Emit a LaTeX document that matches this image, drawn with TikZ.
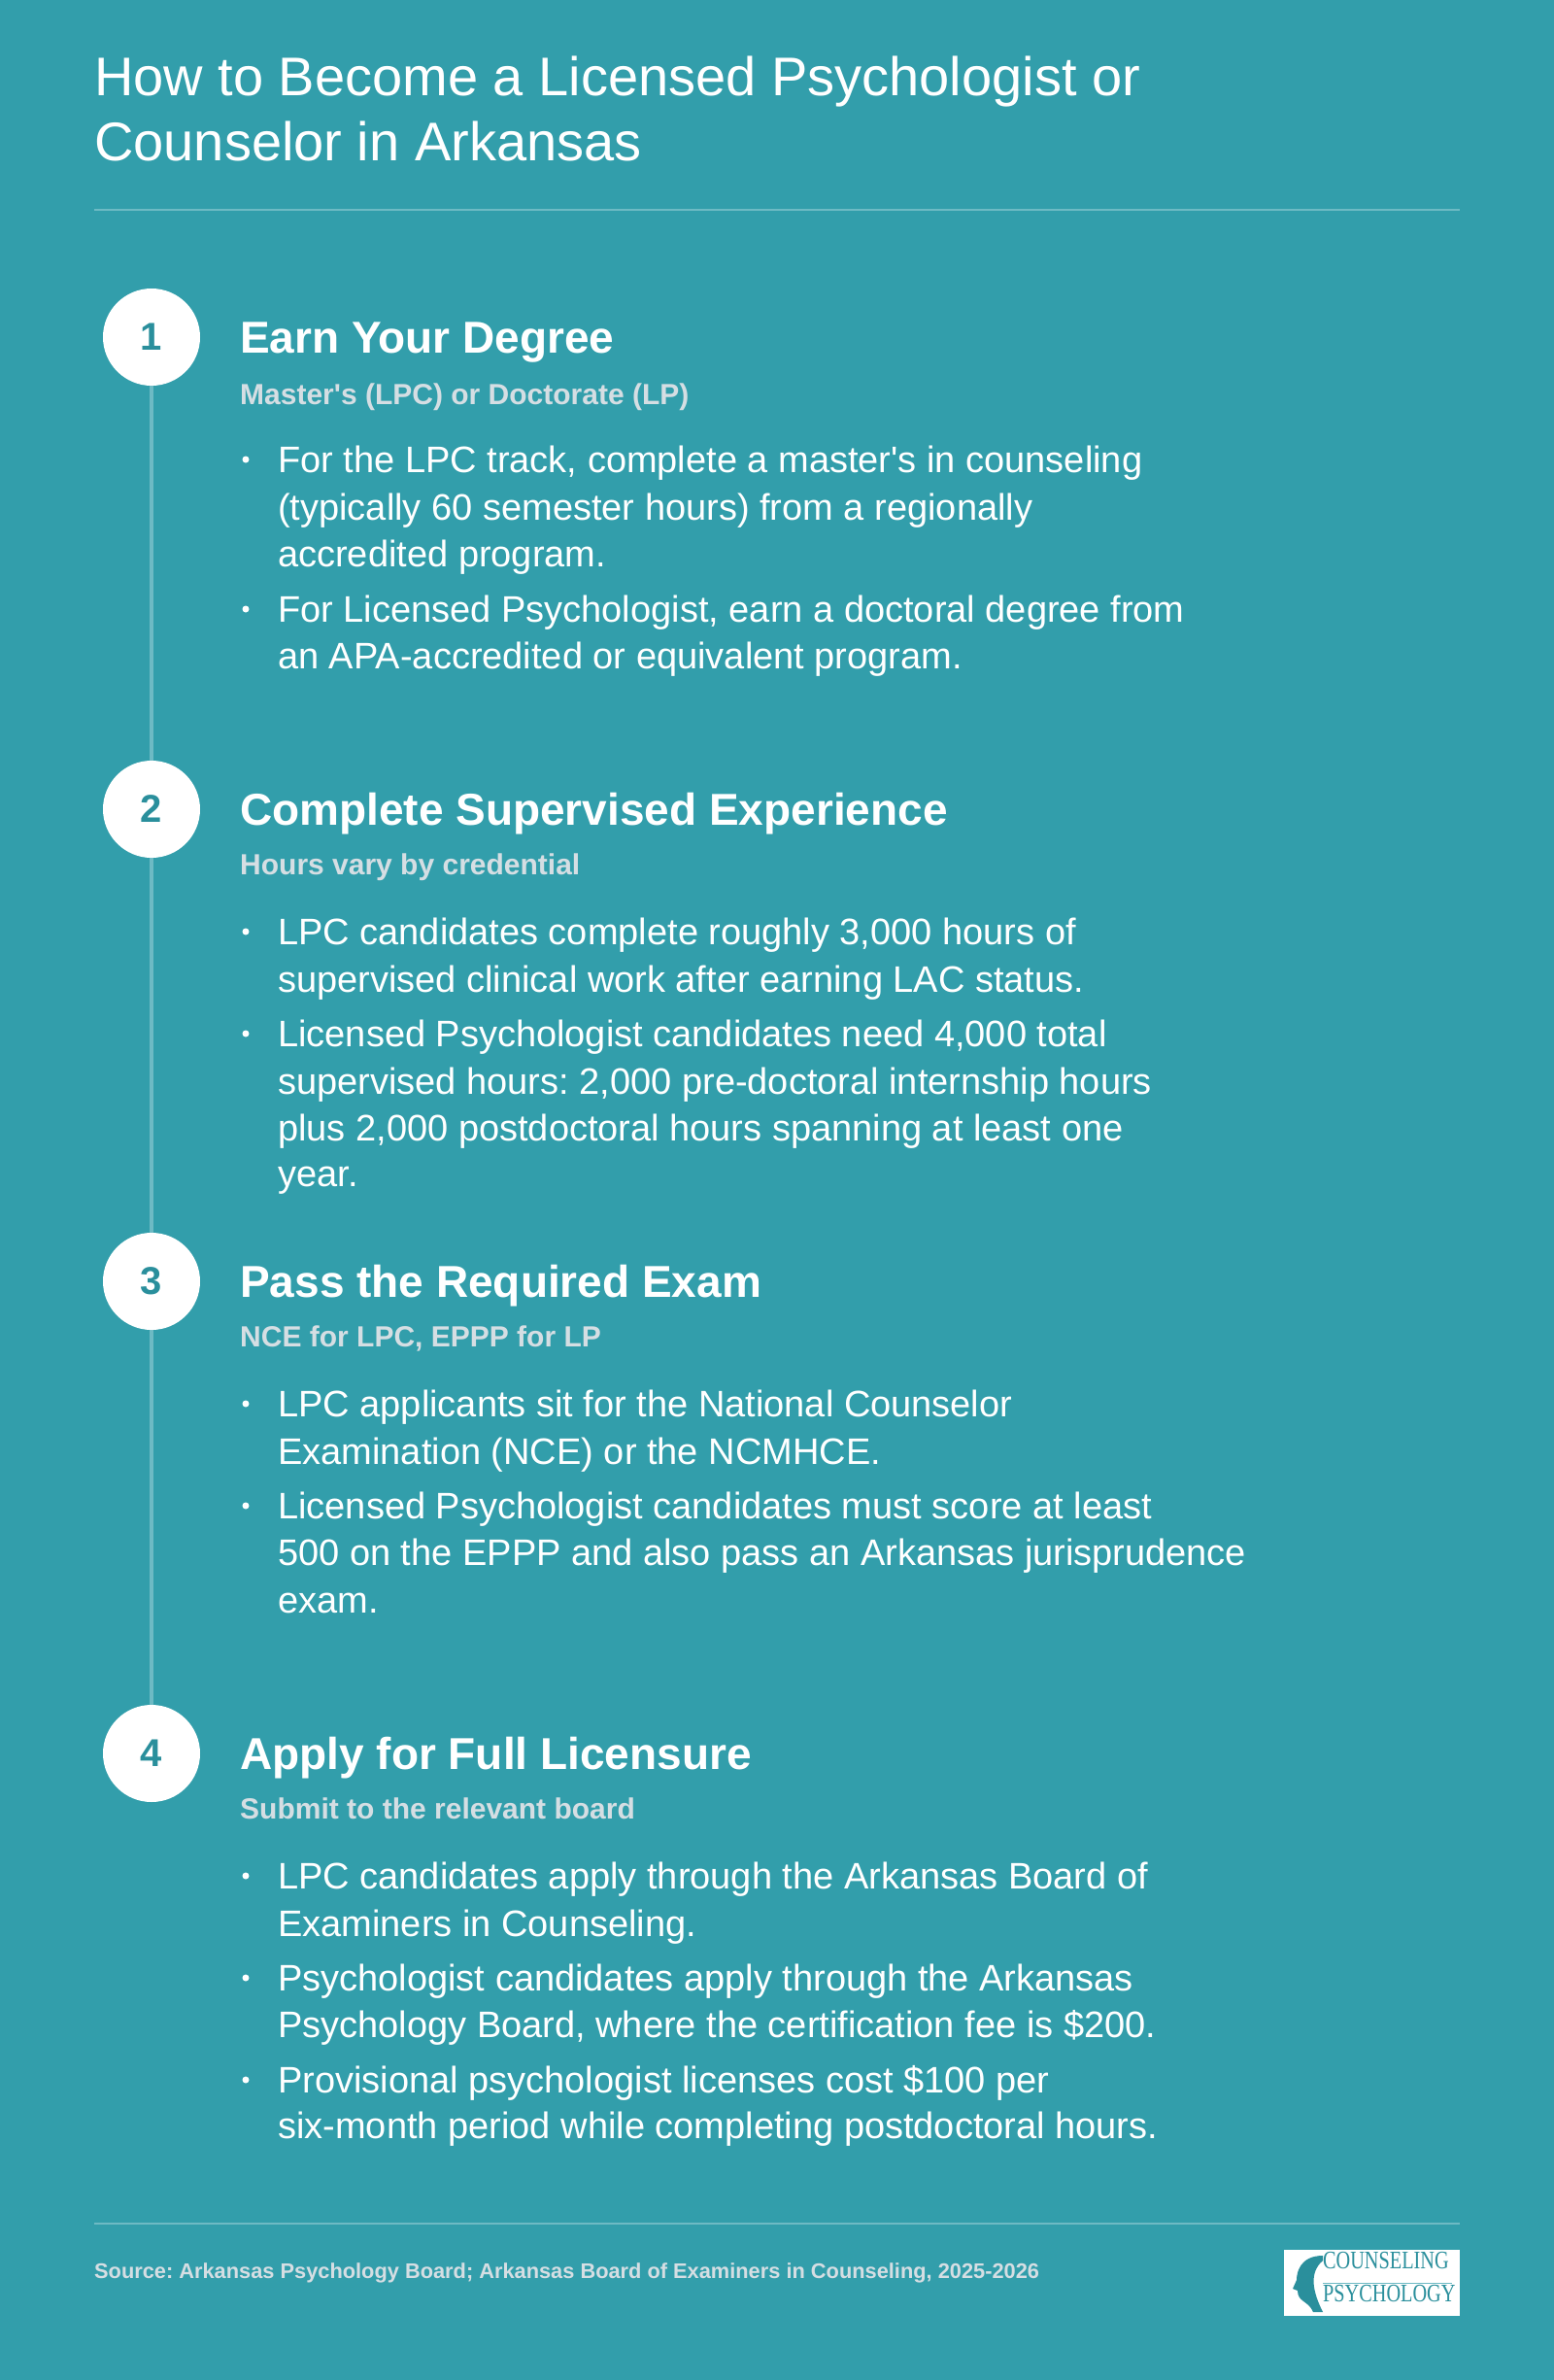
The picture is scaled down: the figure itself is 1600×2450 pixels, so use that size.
\documentclass[tikz,border=0pt]{standalone}
\usepackage{fontspec}
\setmainfont{Liberation Sans}[Ligatures=TeXOff]
\newfontfamily\logofont{Liberation Serif}
\definecolor{bg}{HTML}{329EAB}
\definecolor{sub}{HTML}{D5DEE3}
\definecolor{rl}{HTML}{6DBAC4}
\definecolor{tl}{HTML}{2A8F9C}
\frenchspacing
\begin{document}
\begin{tikzpicture}[x=1pt,y=-1pt,
 title/.style={anchor=base west,inner sep=0,text=white,yshift=-20,font=\fontsize{56}{60}\selectfont},
 head/.style={anchor=base west,inner sep=0,text=white,yshift=-16,font=\bfseries\fontsize{46}{50}\selectfont},
 subt/.style={anchor=base west,inner sep=0,text=sub,yshift=-11,font=\bfseries\fontsize{30}{34}\selectfont},
 bl/.style={anchor=base west,inner sep=0,text=white,yshift=-13,font=\fontsize{38}{40}\selectfont},
 dot/.style={circle,fill=white,inner sep=0,minimum size=7},
 num/.style={circle,fill=white,minimum size=100,inner sep=0,text=tl,font=\bfseries\fontsize{40}{44}\selectfont}]
\fill[bg] (0,0) rectangle (1600,2450);
\useasboundingbox (0,0) rectangle (1600,2450);
\node[title] (t1) at (97,78) {How to Become a Licensed Psychologist or};
\node[title] (t2) at (97,145) {Counselor in Arkansas};
\draw[rl,line width=1.5] (97,216) -- (1503,216);
\coordinate (c1) at (156,347); \coordinate (c4) at (156,1805);
\draw[rl,line width=3.5] (c1) -- (c4);
\newcommand\bul[3]{\node[dot] (d#1) at (253,#2) {}; \node[bl] (b#1) at (286,#2) {#3};}
\newcommand\cont[3]{\node[bl] (b#1) at (286,#2) {#3};}
% step 1
\node[num] (n1) at (c1) {1};
\node[head] (h1) at (247,347) {Earn Your Degree};
\node[subt] (s1) at (247,405) {Master's (LPC) or Doctorate (LP)};
\bul{11}{473}{For the LPC track, complete a master's in counseling}
\cont{12}{522}{(typically 60 semester hours) from a regionally}
\cont{13}{570}{accredited program.}
\bul{14}{627}{For Licensed Psychologist, earn a doctoral degree from}
\cont{15}{675}{an APA-accredited or equivalent program.}
% step 2
\node[num] (n2) at (156,833) {2};
\node[head] (h2) at (247,833) {Complete Supervised Experience};
\node[subt] (s2) at (247,889) {Hours vary by credential};
\bul{21}{959}{LPC candidates complete roughly 3,000 hours of}
\cont{22}{1008}{supervised clinical work after earning LAC status.}
\bul{23}{1064}{Licensed Psychologist candidates need 4,000 total}
\cont{24}{1113}{supervised hours: 2,000 pre-doctoral internship hours}
\cont{25}{1161}{plus 2,000 postdoctoral hours spanning at least one}
\cont{26}{1208}{year.}
% step 3
\node[num] (n3) at (156,1319) {3};
\node[head] (h3) at (247,1319) {Pass the Required Exam};
\node[subt] (s3) at (247,1375) {NCE for LPC, EPPP for LP};
\bul{31}{1445}{LPC applicants sit for the National Counselor}
\cont{32}{1494}{Examination (NCE) or the NCMHCE.}
\bul{33}{1550}{Licensed Psychologist candidates must score at least}
\cont{34}{1598}{500 on the EPPP and also pass an Arkansas jurisprudence}
\cont{35}{1647}{exam.}
% step 4
\node[num] (n4) at (c4) {4};
\node[head] (h4) at (247,1805) {Apply for Full Licensure};
\node[subt] (s4) at (247,1861) {Submit to the relevant board};
\bul{41}{1931}{LPC candidates apply through the Arkansas Board of}
\cont{42}{1980}{Examiners in Counseling.}
\bul{43}{2036}{Psychologist candidates apply through the Arkansas}
\cont{44}{2084}{Psychology Board, where the certification fee is \$200.}
\bul{45}{2141}{Provisional psychologist licenses cost \$100 per}
\cont{46}{2188}{six-month period while completing postdoctoral hours.}
% footer
\draw[rl,line width=1.5] (97,2289) -- (1503,2289);
\node[anchor=base west,inner sep=0,text=sub,yshift=-8,font=\bfseries\fontsize{21.8}{24}\selectfont] (src) at (97,2337) {Source: Arkansas Psychology Board; Arkansas Board of Examiners in Counseling, 2025-2026};
\fill[white] (1322,2316) rectangle (1503,2384);
\node[anchor=mid west,inner sep=0,text=tl,xscale=0.78,font=\logofont\fontsize{26}{26}\selectfont] (lg1) at (1362,2333) {COUNSELING};
\node[anchor=mid west,inner sep=0,text=tl,xscale=0.78,font=\logofont\fontsize{26}{26}\selectfont] (lg2) at (1362,2367) {PSYCHOLOGY};
\draw[rl,line width=0.8] (1362,2350) -- (1495,2350);
\fill[tl] (1362,2322) .. controls (1338,2322) and (1335,2340) .. (1335,2347) -- (1331,2356) -- (1336,2358) .. controls (1336,2370) and (1347,2368) .. (1352,2380) -- (1362,2380) .. controls (1352,2360) and (1347,2340) .. (1362,2327) -- cycle;
\end{tikzpicture}
\end{document}
